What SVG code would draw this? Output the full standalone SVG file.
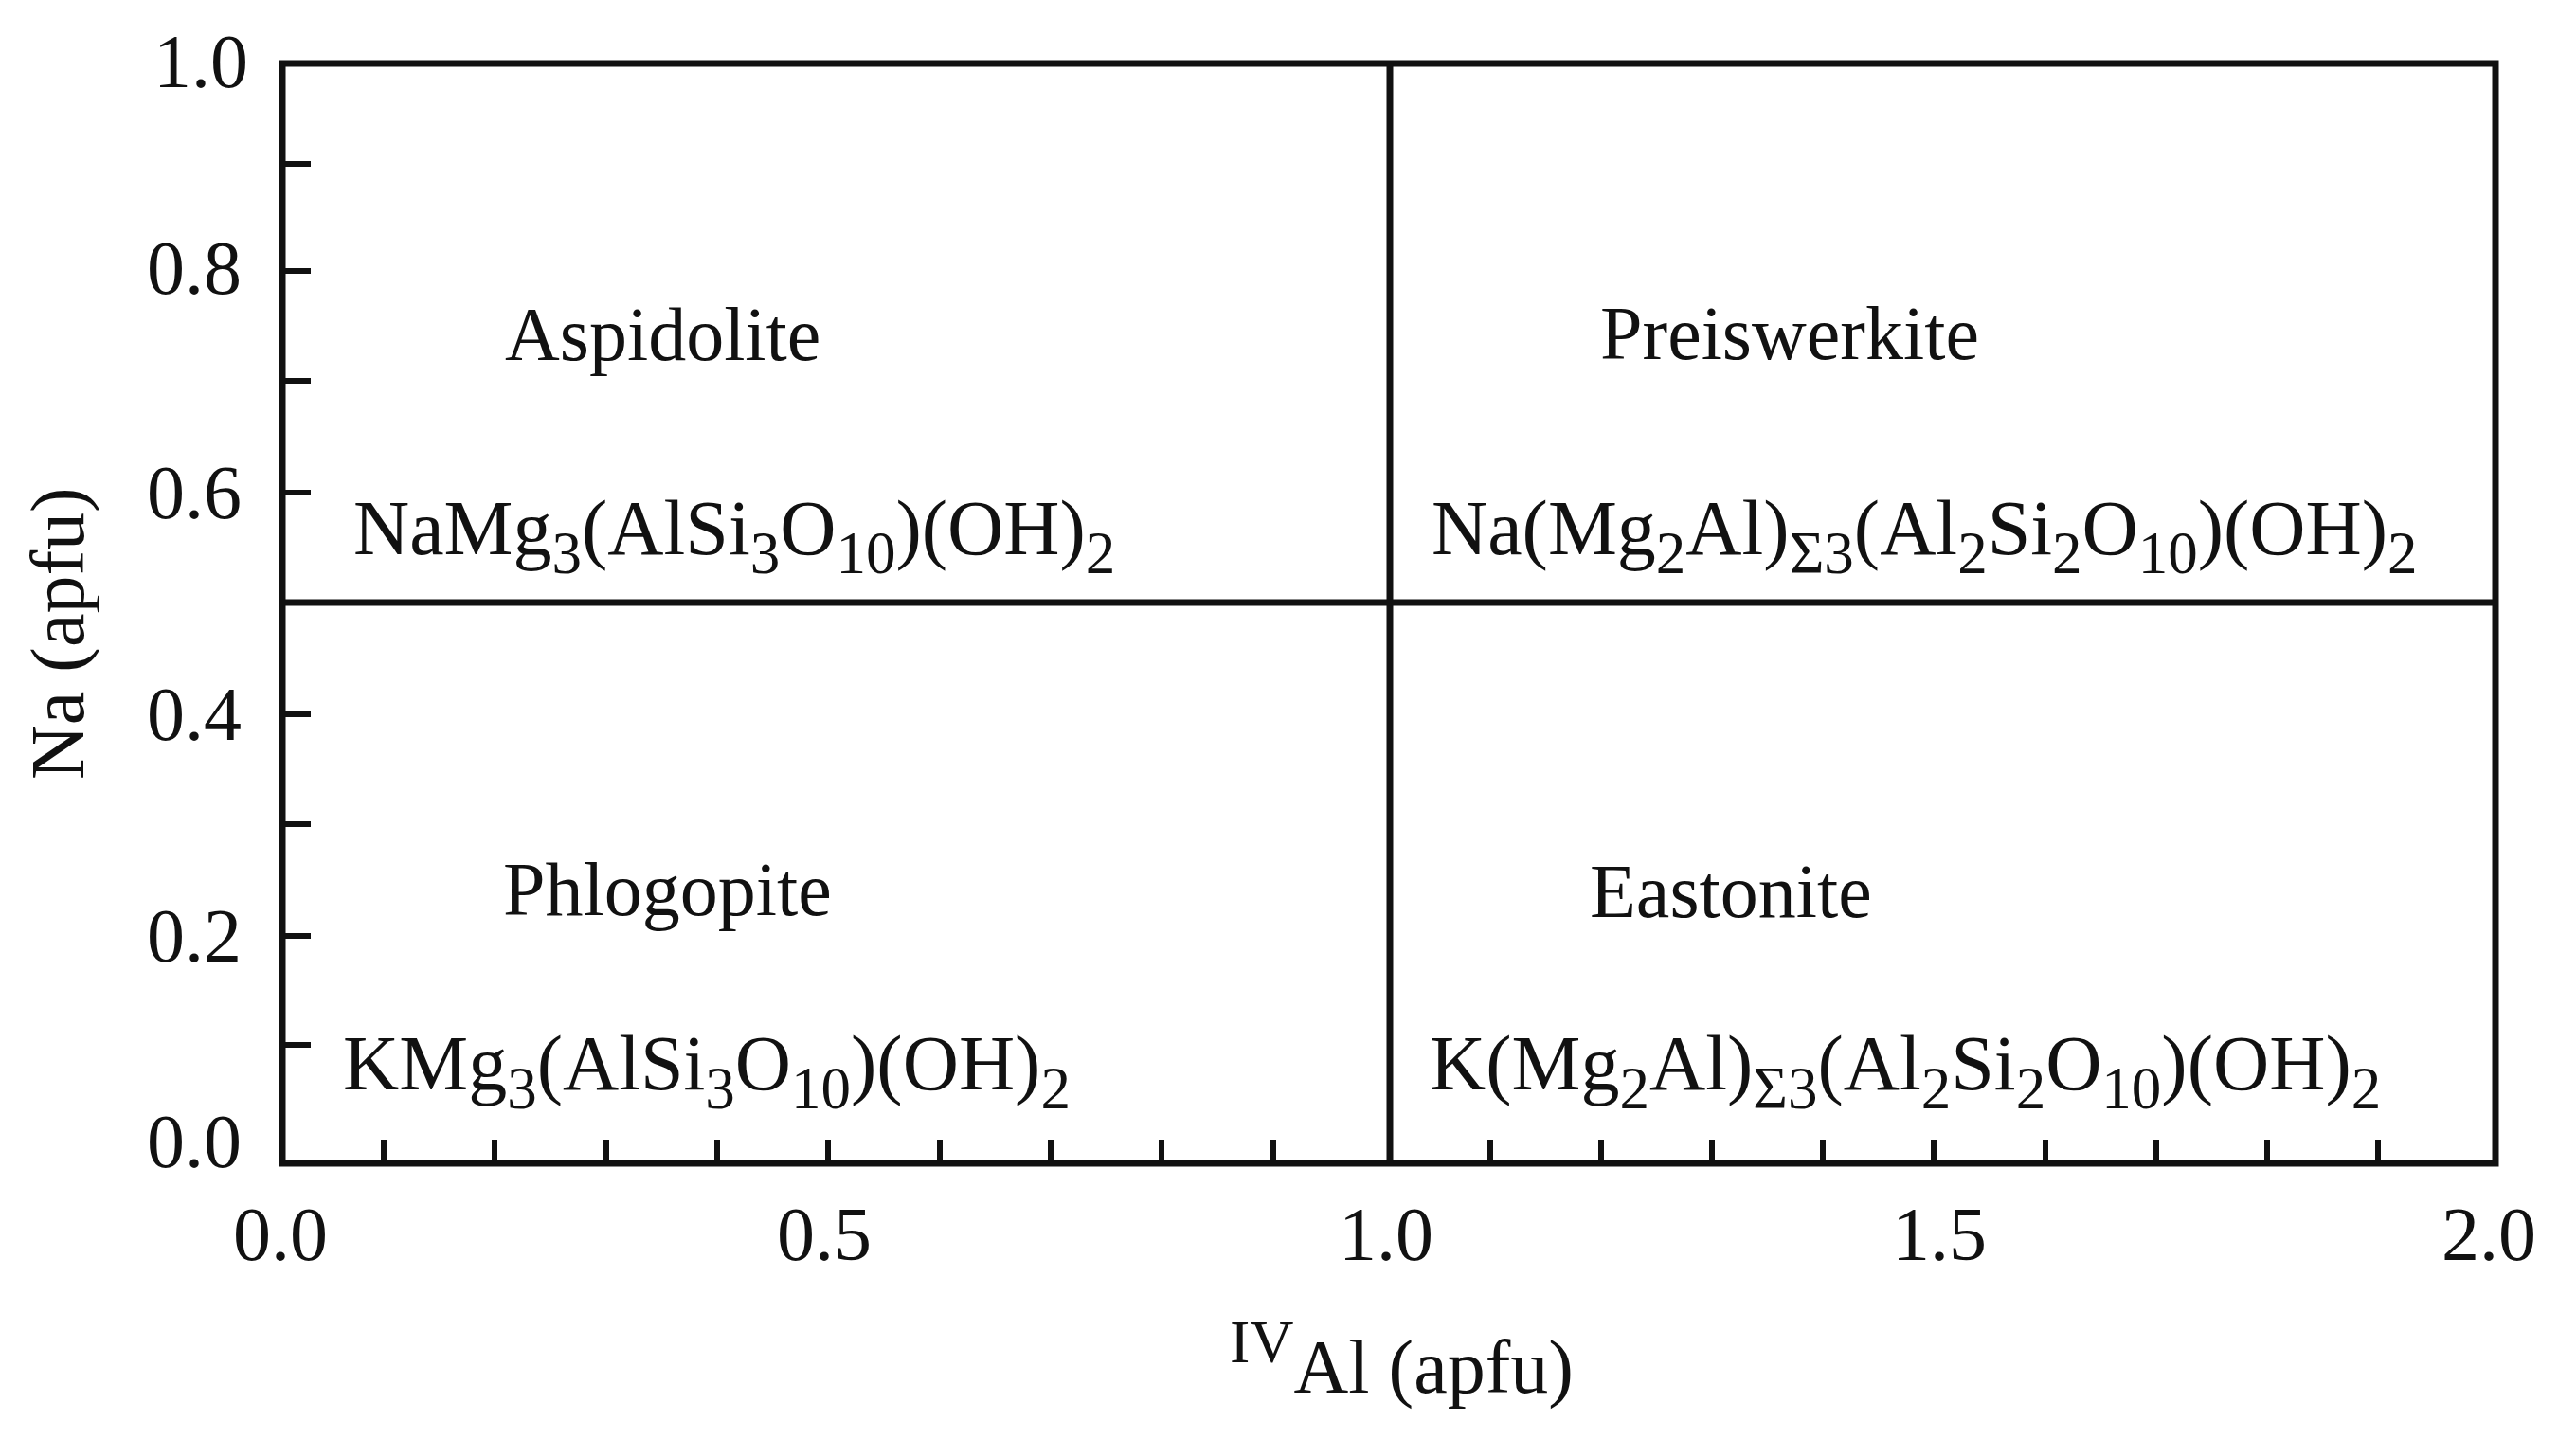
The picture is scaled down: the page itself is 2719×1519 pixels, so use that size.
<svg xmlns="http://www.w3.org/2000/svg" width="2719" height="1519" viewBox="0 0 2719 1519">
<style>
text{font-family:"Liberation Serif","Times New Roman",serif;fill:#111;}
.lab{font-size:80px;}
.f{font-size:82px;}
.s{font-size:63px;}
.ax{stroke:#111;stroke-width:7;fill:none;}
.tk{stroke:#111;stroke-width:6;fill:none;}
</style>
<rect width="2719" height="1519" fill="#fff"/>
<g id="axes">
<rect class="ax" x="298" y="67" width="2336" height="1161"/>
</g>
<g id="connectors">
<line class="ax" x1="1467" y1="67" x2="1467" y2="1228"/>
<line class="ax" x1="298" y1="636" x2="2634" y2="636"/>
</g>
<g id="yticks">
<path class="tk" d="M298 173H328M298 286H328M298 402H328M298 520H328M298 754H328M298 870H328M298 988H328M298 1103H328"/>
</g>
<g id="xticks">
<path class="tk" d="M405 1228V1203M522 1228V1203M640 1228V1203M757 1228V1203M874 1228V1203M992 1228V1203M1109 1228V1203M1226 1228V1203M1344 1228V1203M1573 1228V1203M1690 1228V1203M1807 1228V1203M1924 1228V1203M2041 1228V1203M2159 1228V1203M2276 1228V1203M2393 1228V1203M2510 1228V1203"/>
</g>
<g id="ylabels" class="lab" text-anchor="end">
<text class="lab" x="262" y="92">1.0</text>
<text class="lab" x="255" y="310">0.8</text>
<text class="lab" x="255" y="547">0.6</text>
<text class="lab" x="255" y="781">0.4</text>
<text class="lab" x="255" y="1015">0.2</text>
<text class="lab" x="255" y="1232">0.0</text>
</g>
<g id="xlabels" text-anchor="middle">
<text class="lab" x="296" y="1330">0.0</text>
<text class="lab" x="870" y="1330">0.5</text>
<text class="lab" x="1463" y="1330">1.0</text>
<text class="lab" x="2047" y="1330">1.5</text>
<text class="lab" x="2627" y="1330">2.0</text>
</g>
<g id="xtitle">
<text class="lab" x="1298" y="1470"><tspan font-size="64" dy="-32">IV</tspan><tspan dy="32">Al (apfu)</tspan></text>
</g>
<g id="ytitle">
<text class="lab" x="88" y="823" transform="rotate(-90 88 823)">Na (apfu)</text>
</g>
<g id="aspidolite">
<text class="lab" x="533" y="380">Aspidolite</text>
<text class="f" x="373" y="585">NaMg<tspan class="s" dy="20">3</tspan><tspan dy="-20">(AlSi</tspan><tspan class="s" dy="20">3</tspan><tspan dy="-20">O</tspan><tspan class="s" dy="20">10</tspan><tspan dy="-20">)(OH)</tspan><tspan class="s" dy="20">2</tspan></text>
</g>
<g id="preiswerkite">
<text class="lab" x="1689" y="379">Preiswerkite</text>
<text class="f" x="1511" y="585">Na(Mg<tspan class="s" dy="20">2</tspan><tspan dy="-20">Al)</tspan><tspan class="s" dy="20">Σ3</tspan><tspan dy="-20">(Al</tspan><tspan class="s" dy="20">2</tspan><tspan dy="-20">Si</tspan><tspan class="s" dy="20">2</tspan><tspan dy="-20">O</tspan><tspan class="s" dy="20">10</tspan><tspan dy="-20">)(OH)</tspan><tspan class="s" dy="20">2</tspan></text>
</g>
<g id="phlogopite">
<text class="lab" x="531" y="966">Phlogopite</text>
<text class="f" x="362" y="1150">KMg<tspan class="s" dy="20">3</tspan><tspan dy="-20">(AlSi</tspan><tspan class="s" dy="20">3</tspan><tspan dy="-20">O</tspan><tspan class="s" dy="20">10</tspan><tspan dy="-20">)(OH)</tspan><tspan class="s" dy="20">2</tspan></text>
</g>
<g id="eastonite">
<text class="lab" x="1678" y="968">Eastonite</text>
<text class="f" x="1509" y="1150">K(Mg<tspan class="s" dy="20">2</tspan><tspan dy="-20">Al)</tspan><tspan class="s" dy="20">Σ3</tspan><tspan dy="-20">(Al</tspan><tspan class="s" dy="20">2</tspan><tspan dy="-20">Si</tspan><tspan class="s" dy="20">2</tspan><tspan dy="-20">O</tspan><tspan class="s" dy="20">10</tspan><tspan dy="-20">)(OH)</tspan><tspan class="s" dy="20">2</tspan></text>
</g>
</svg>
